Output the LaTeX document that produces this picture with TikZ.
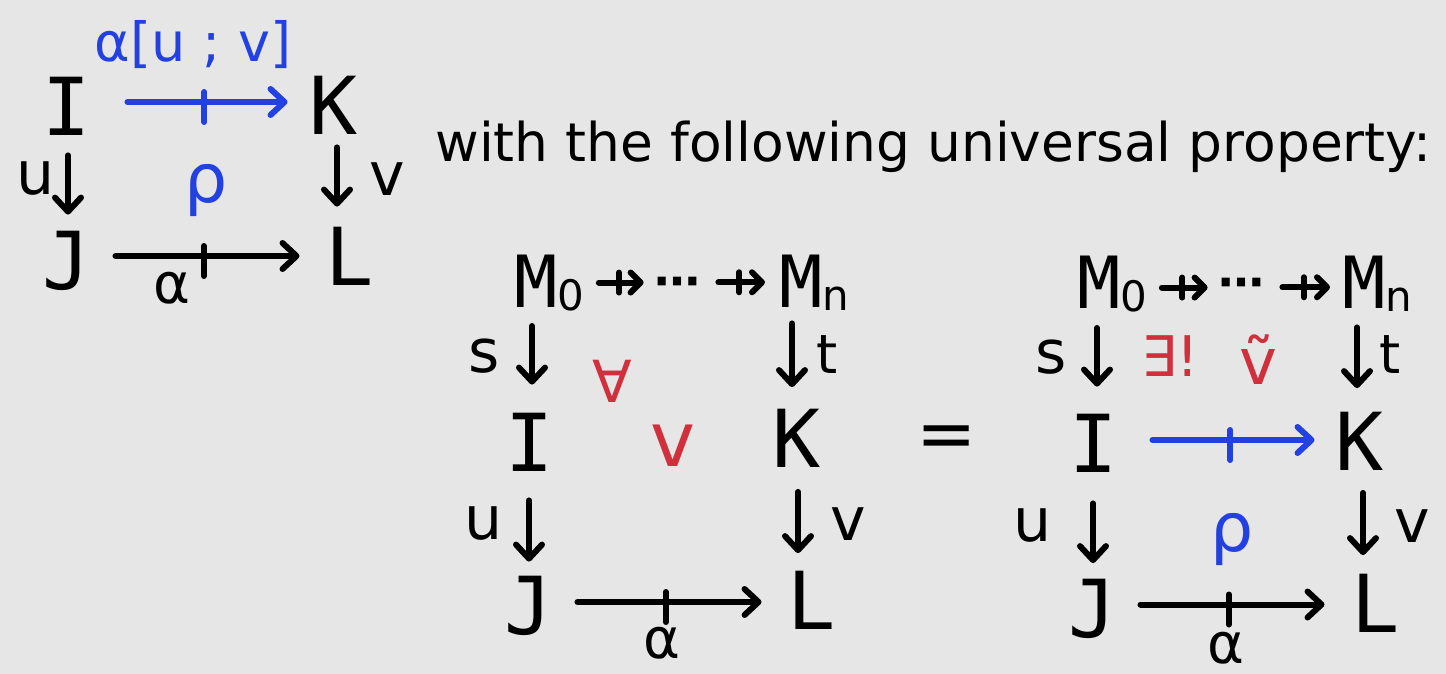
\documentclass[tikz,border=0pt]{standalone}
\usepackage{fontspec}
\setmainfont{DejaVu Sans}
\newfontfamily\monof{DejaVu Sans Mono}
\usetikzlibrary{arrows.meta,decorations.markings,calc}
\definecolor{bg}{RGB}{230,230,230}
\definecolor{myblue}{RGB}{35,64,225}
\definecolor{myred}{RGB}{208,48,60}
\newcommand\mysub[1]{\raisebox{-1.5pt}{\fontsize{21}{21}\selectfont\rmfamily #1}}
\begin{document}
\begin{tikzpicture}[x=0.5pt,y=-0.5pt,
  big/.style={font=\monof\fontsize{40}{40}\selectfont, inner sep=0pt, text height=29pt, text depth=0pt},
  mm/.style={font=\monof\fontsize{36}{36}\selectfont, inner sep=0pt, anchor=base west},
  dots/.style={font=\bfseries\fontsize{23}{23}\selectfont, inner sep=0pt, anchor=base},
  lab/.style={font=\fontsize{30}{30}\selectfont, inner sep=0pt},
  ar/.style={line width=3pt, line cap=round, -{Straight Barb[length=7pt,width=13pt,round]}},
  prof/.style={ar, postaction={decorate}, decoration={markings, mark=at position #1 with {\draw[-, line width=3pt, line cap=round] (0,5pt) -- (0,-10pt);}}},
  prof/.default=0.48,
  sprof/.style={line width=3pt, line cap=round, -{Straight Barb[length=5pt,width=10pt,round]}, postaction={decorate}, decoration={markings, mark=at position 0.45 with {\draw[-, line width=3pt, line cap=round] (0,5pt) -- (0,-5pt);}}},
]
\fill[bg] (0,0) rectangle (1446,674);
\useasboundingbox (0,0) rectangle (1446,674);

% ---------- left square ----------
\node[big] (I1) at (67,107) {I};
\node[big] (K1) at (334,105) {K};
\node[big] (J1) at (67,260) {J};
\node[big] (L1) at (350,256) {L};
\draw[prof, color=myblue] ($(I1.east)+(36,-5)$) -- ($(I1.east -| K1.west)+(-22,-5)$);
\draw[prof] ($(J1.east)+(24,-4)$) -- ($(J1.east -| L1.west)+(-26,-4)$);
\draw[ar] ($(I1.south)+(1,19)$) -- ($(I1.south |- J1.north)+(1,-16)$);
\draw[ar] ($(K1.south)+(3,13)$) -- ($(K1.south |- L1.north)+(3,-20)$);
\node[lab, font=\fontsize{27}{27}\selectfont, text=myblue] (lab1) at (193,45) {α[u ; v]};
\node[lab] (u1) at (36,178) {u};
\node[lab, font=\fontsize{34}{34}\selectfont, text=myblue] (rho1) at (206,191) {ρ};
\node[lab] (v1) at (387,179) {v};
\node[lab, font=\fontsize{28}{28}\selectfont] (al1) at (172,288) {α};

% ---------- text ----------
\node[font=\fontsize{26.7}{30}\selectfont, inner sep=0pt, anchor=base west] (txt) at (435,162) {with the following universal property:};

% ---------- middle square ----------
\node[mm] (M0a) at (514,307) {M\mysub{0}};
\node[dots] (d1) at (677,297) {⋯};
\node[mm] (Mna) at (779,307) {M\mysub{n}};
\node[big] (I2) at (530,442) {I};
\node[big] (K2) at (797,438.5) {K};
\node[big] (J2) at (529,605) {J};
\node[big] (L2) at (812,600.5) {L};
\draw[sprof] ($(M0a.east)+(14,0)$) -- ($(M0a.east -| d1.west)+(-10,0)$);
\draw[sprof] ($(Mna.west -| d1.east)+(18,0)$) -- ($(Mna.west)+(-14,0)$);
\draw[ar] ($(I2.north |- M0a.south)+(2,15)$) -- ($(I2.north)+(2,-28)$);
\draw[ar] ($(K2.north |- Mna.south)+(-5,13)$) -- ($(K2.north)+(-5,-22)$);
\draw[ar] ($(I2.south)+(-1,29)$) -- ($(I2.south |- J2.north)+(-1,-14)$);
\draw[ar] ($(K2.south)+(1,24)$) -- ($(K2.south |- L2.north)+(1,-18)$);
\draw[prof] ($(J2.east)+(24,-3)$) -- ($(J2.east -| L2.west)+(-26,-3)$);
\node[lab] (s2) at (484,356) {s};
\node[lab, font=\fontsize{29}{29}\selectfont, text=myred] (fa) at (612,381) {∀};
\node[lab, font=\fontsize{27}{27}\selectfont] (t2) at (827,355) {t};
\node[lab, font=\fontsize{38}{38}\selectfont, text=myred] (vr) at (673,446) {v};
\node[lab] (u2) at (484,523) {u};
\node[lab] (v2) at (848,524) {v};
\node[lab, font=\fontsize{28}{28}\selectfont] (al2) at (662,643) {α};

% ---------- equals ----------
\node[font=\fontsize{36}{36}\selectfont, inner sep=0pt] (eq) at (947,442) {=};

% ---------- right square ----------
\node[mm] (M0b) at (1077,308) {M\mysub{0}};
\node[dots] (d2) at (1241,298) {⋯};
\node[mm] (Mnb) at (1342,308) {M\mysub{n}};
\node[big] (I3) at (1094,443) {I};
\node[big] (K3) at (1360,441.5) {K};
\node[big] (J3) at (1093,608.5) {J};
\node[big] (L3) at (1376,603.5) {L};
\draw[sprof] ($(M0b.east)+(14,4)$) -- ($(M0b.east -| d2.west)+(-10,4)$);
\draw[sprof] ($(Mnb.west -| d2.east)+(18,4)$) -- ($(Mnb.west)+(-12,4)$);
\draw[ar] ($(I3.north |- M0b.south)+(3,16)$) -- ($(I3.north)+(3,-27)$);
\draw[ar] ($(K3.north |- Mnb.south)+(-3,16)$) -- ($(K3.north)+(-3,-24)$);
\draw[prof, color=myblue] ($(I3.east)+(34,-3)$) -- ($(I3.east -| K3.west)+(-21,-3)$);
\draw[ar] ($(I3.south)+(-1,31)$) -- ($(I3.south |- J3.north)+(-1,-16)$);
\draw[ar] ($(K3.south)+(3,22)$) -- ($(K3.south |- L3.north)+(3,-19)$);
\draw[prof] ($(J3.east)+(23,-4)$) -- ($(J3.east -| L3.west)+(-27,-4)$);
\node[lab] (s3) at (1051,357) {s};
\node[lab, font=\fontsize{28}{28}\selectfont, text=myred] (ex) at (1170,356) {∃!};
\node[lab, font=\fontsize{32}{32}\selectfont, text=myred] (vt) at (1258,360) {ṽ};
\node[lab, font=\fontsize{27}{27}\selectfont] (t3) at (1390,355) {t};
\node[lab] (u3) at (1033,525) {u};
\node[lab, font=\fontsize{34}{34}\selectfont, text=myblue] (rho3) at (1232,540) {ρ};
\node[lab] (v3) at (1412,526) {v};
\node[lab, font=\fontsize{28}{28}\selectfont] (al3) at (1226,648) {α};
\end{tikzpicture}
\end{document}
